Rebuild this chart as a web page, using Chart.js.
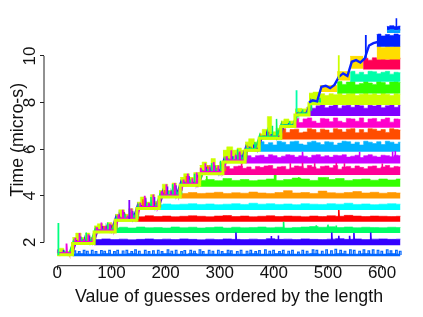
<!DOCTYPE html>
<html>
<head>
<meta charset="utf-8">
<title>Guess timing</title>
<script src="https://cdn.jsdelivr.net/npm/chart.js@4"></script>
<style>
  html, body { margin: 0; padding: 0; background: #fff; overflow: hidden; }
  canvas { display: block; filter: blur(0.45px); }
</style>
</head>
<body>
<canvas id="chart" width="423" height="317"></canvas>
<script>
// --- Data ---
const xTickValues = [0, 100, 200, 300, 400, 500, 600];
const yTickValues = [2, 4, 6, 8, 10];
const xTitle = "Value of guesses ordered by the length";
const yTitle = "Time (micro-s)";

// guess value at which each flat band begins, and its lower edge
const bandStarts = [28, 68, 107, 147, 188, 227, 263, 306, 347, 373, 413, 439, 465, 485, 517, 541, 565, 590, 590, 609, 609];
const bandFloors = [1.41, 1.88, 2.4, 2.89, 3.39, 3.88, 4.39, 4.89, 5.39, 5.89, 6.42, 6.92, 7.42, 7.89, 8.39, 8.89, 9.42, 9.85, 10.39, 11.1, 10.98];

// guess positions for the upper edge of the bands (a band uses the tail of one of these)
const guessGrid = [26, 42, 58, 74, 90, 106, 122, 138, 154, 170, 186, 202, 218, 234, 250, 266, 282, 298, 314, 330, 346, 362, 378, 394, 410, 426, 442, 458, 474, 490, 506, 522, 538, 554, 570, 586, 602, 618, 634];
const fineGrid = [298, 306, 314, 322, 330, 338, 346, 354, 362, 370, 378, 386, 394, 402, 410, 418, 426, 434, 442, 450, 458, 466, 474, 482, 490, 498, 506, 514, 522, 530, 538, 546, 554, 562, 570, 578, 586, 594, 602, 610, 618, 626, 634];

const band1 = [1.5, 1.52, 1.5, 1.5, 1.52, 1.5, 1.5, 1.52, 1.5, 1.5, 1.5, 1.52, 1.5, 1.5, 1.52, 1.5, 1.5, 1.5, 1.52, 1.5, 1.5, 1.52, 1.5, 1.5, 1.52, 1.5, 1.5, 1.5, 1.52, 1.5, 1.5, 1.52, 1.5, 1.5, 1.52, 1.5, 1.5, 1.52, 1.5];
const band2 = [2.14, 2.12, 2.15, 2.12, 2.14, 2.11, 2.13, 2.15, 2.12, 2.14, 2.12, 2.15, 2.13, 2.11, 2.14, 2.12, 2.15, 2.13, 2.12, 2.14, 2.12, 2.16, 2.13, 2.14, 2.12, 2.15, 2.13, 2.12, 2.14, 2.16, 2.13, 2.15, 2.12, 2.14, 2.15, 2.13, 2.14];
const band3 = [2.62, 2.65, 2.62, 2.66, 2.63, 2.64, 2.62, 2.66, 2.63, 2.65, 2.62, 2.64, 2.66, 2.62, 2.65, 2.63, 2.64, 2.66, 2.63, 2.65, 2.62, 2.64, 2.66, 2.68, 2.65, 2.67, 2.64, 2.66, 2.63, 2.65, 2.64, 2.63, 2.65, 2.64];
const band4 = [3.12, 3.1, 3.14, 3.11, 3.13, 3.1, 3.12, 3.14, 3.12, 3.1, 3.13, 3.15, 3.11, 3.13, 3.1, 3.12, 3.14, 3.11, 3.13, 3.12, 3.1, 3.13, 3.11, 3.14, 3.12, 3.16, 3.13, 3.11, 3.13, 3.12, 3.11, 3.12];
const band5 = [3.62, 3.65, 3.62, 3.64, 3.66, 3.63, 3.65, 3.62, 3.64, 3.66, 3.63, 3.68, 3.64, 3.66, 3.63, 3.65, 3.62, 3.66, 3.64, 3.63, 3.66, 3.64, 3.68, 3.63, 3.65, 3.62, 3.64, 3.66, 3.64];
const band6 = [4.14, 4.1, 4.14, 4.1, 4.12, 4.15, 4.1, 4.13, 4.11, 4.16, 4.12, 4.1, 4.14, 4.22, 4.12, 4.14, 4.1, 4.2, 4.13, 4.11, 4.14, 4.18, 4.12, 4.15, 4.11, 4.14, 4.12];
const band7 = [4.72, 4.66, 4.7, 4.65, 4.74, 4.66, 4.7, 4.65, 4.68, 4.72, 4.66, 4.7, 4.76, 4.72, 4.66, 4.78, 4.7, 4.74, 4.66, 4.7, 4.72, 4.67, 4.72, 4.68, 4.72];
const band8 = [5.24, 5.26, 5.16, 5.26, 5.28, 5.18, 5.24, 5.14, 5.26, 5.22, 5.28, 5.3, 5.16, 5.24, 5.26, 5.14, 5.2, 5.28, 5.26, 5.18, 5.3, 5.24, 5.16, 5.26, 5.28, 5.2, 5.3, 5.14, 5.24, 5.26, 5.18, 5.28, 5.22, 5.16, 5.26, 5.28, 5.18, 5.24, 5.3, 5.2, 5.26, 5.24];
const band9 = [5.7, 5.72, 5.64, 5.72, 5.74, 5.66, 5.76, 5.72, 5.64, 5.7, 5.76, 5.74, 5.66, 5.72, 5.7, 5.64, 5.74, 5.76, 5.68, 5.72, 5.66, 5.74, 5.72, 5.76, 5.66, 5.7, 5.74, 5.64, 5.72, 5.76, 5.7, 5.66, 5.74, 5.72, 5.68, 5.74, 5.72];
const band10 = [6.3, 6.32, 6.2, 6.28, 6.18, 6.34, 6.3, 6.2, 6.32, 6.34, 6.22, 6.18, 6.3, 6.34, 6.28, 6.2, 6.32, 6.3, 6.18, 6.26, 6.34, 6.32, 6.22, 6.3, 6.18, 6.34, 6.3, 6.24, 6.32, 6.2, 6.34, 6.3, 6.22, 6.3];
const band11 = [6.85, 6.88, 6.72, 6.84, 6.86, 6.7, 6.74, 6.88, 6.84, 6.72, 6.86, 6.82, 6.7, 6.88, 6.84, 6.74, 6.86, 6.88, 6.7, 6.84, 6.72, 6.88, 6.86, 6.78, 6.84, 6.72, 6.88, 6.84, 6.82];
const band12 = [7.3, 7.32, 7.14, 7.3, 7.34, 7.2, 7.12, 7.32, 7.3, 7.18, 7.34, 7.2, 7.14, 7.32, 7.3, 7.2, 7.34, 7.14, 7.3, 7.32, 7.18, 7.28, 7.34, 7.16, 7.3, 7.28];
const band13 = [7.85, 7.88, 7.76, 7.86, 7.9, 7.78, 7.85, 7.92, 7.76, 7.86, 7.88, 7.8, 7.92, 7.86, 7.76, 7.88, 7.85, 7.9, 7.78, 7.86, 7.92, 7.8, 7.88];
const band14 = [8.36, 8.38, 8.3, 8.38, 8.34, 8.4, 8.32, 8.38, 8.4, 8.3, 8.36, 8.4, 8.34, 8.38, 8.32, 8.4, 8.36, 8.3, 8.38, 8.36];
const band15 = [8.88, 8.9, 8.78, 8.88, 8.9, 8.76, 8.82, 8.9, 8.84, 8.78, 8.9, 8.86, 8.76, 8.88, 8.9, 8.86];
const band16 = [9.32, 9.34, 9.22, 9.3, 9.2, 9.34, 9.32, 9.24, 9.3, 9.34, 9.22, 9.3, 9.28];
const band17 = [9.85, 9.9, 9.82, 9.92, 9.86, 9.95, 9.84, 9.92, 9.88, 9.9];
const band18 = [10.4, 10.42, 10.36, 10.42, 10.38, 10.42, 10.4];
const band19 = [10.92, 10.94, 10.86, 10.92, 10.88, 10.94, 10.9];
const band20 = [11.28, 11.26, 11.3, 11.26, 11.28];
const band21 = [11.12, 11.1, 11.13, 11.1, 11.12];
const coarseBands = [band1, band2, band3, band4, band5, band6, band7];
const fineBands = [band8, band9, band10, band11, band12, band13, band14, band15, band16, band17, band18, band19, band20, band21];

// teeth of the lowest band
const combX = [31, 39, 48, 54, 63, 70, 80, 86, 95, 104, 110, 120, 127, 136, 143, 150, 161, 168, 176, 185, 192, 203, 210, 218, 228, 234, 245, 252, 262, 268, 279, 286, 296, 303, 314, 320, 331, 338, 349, 356, 365, 372, 383, 391, 398, 409, 416, 426, 433, 444, 452, 460, 471, 478, 488, 496, 505, 513, 522, 530, 540, 547, 557, 565, 574, 582, 591, 598, 608, 615, 625, 632];
const combY = [1.64, 1.6, 1.66, 1.62, 1.66, 1.6, 1.65, 1.62, 1.66, 1.6, 1.66, 1.63, 1.66, 1.6, 1.68, 1.62, 1.66, 1.6, 1.64, 1.66, 1.6, 1.68, 1.62, 1.66, 1.6, 1.65, 1.66, 1.62, 1.68, 1.6, 1.66, 1.62, 1.66, 1.6, 1.66, 1.64, 1.6, 1.66, 1.62, 1.66, 1.6, 1.65, 1.68, 1.62, 1.66, 1.6, 1.66, 1.62, 1.66, 1.58, 1.66, 1.62, 1.68, 1.66, 1.62, 1.68, 1.64, 1.7, 1.66, 1.62, 1.68, 1.66, 1.62, 1.68, 1.64, 1.68, 1.66, 1.62, 1.68, 1.64, 1.66, 1.62];

// tall single spikes: guess, peak time, and which band they rise from
const spikeBands = [1, 2, 3, 6, 7, 8, 19];
const spikeXs = [
  [330, 395, 408, 507, 520, 540, 548, 579],
  [418, 478, 500, 515],
  [520],
  [276, 401, 403, 446, 500],
  [340, 430, 453, 475, 515, 530, 600],
  [453, 558, 619, 624],
  [626]
];
const spikeYs = [
  [2.42, 2.27, 2.3, 2.42, 2.28, 2.28, 2.4, 2.42],
  [2.88, 2.74, 2.76, 2.72],
  [3.39],
  [4.85, 4.89, 4.89, 4.8, 4.8],
  [5.38, 5.4, 5.42, 5.4, 5.42, 5.4, 5.38],
  [5.89, 5.89, 5.9, 5.92],
  [11.62]
];

// the staircase: start of each step, its lower edge, top of the yellow-green block
const stairEdges = [0, 28, 68, 107, 147, 188, 227, 263, 306, 347, 373, 413, 439, 465, 485];
const stairFloor = [1.42, 1.9, 2.4, 2.9, 3.4, 3.9, 4.4, 4.9, 5.4, 5.9, 6.42, 6.92, 7.42, 7.9, 7.9];
const stairTop = [1.6, 2.2, 2.7, 3.2, 3.72, 4.22, 4.78, 5.3, 5.95, 6.3, 6.65, 7.2, 7.72, 8.4, 8.4];

// gold block over the last steps
const goldEdges = [485, 517, 541, 565];
const goldFloor = [8.45, 8.95, 9.45, 9.45];
const goldTop = [8.72, 9.32, 9.98, 9.98];

// noisy traces climbing the staircase
const mixX = [0, 8, 16, 24, 32, 40, 48, 56, 64, 72, 80, 88, 96, 104, 112, 120, 128, 136, 144, 152, 160, 168, 176, 184, 192, 200, 208, 216, 224, 232, 240, 248, 256, 264, 272, 280, 288, 296, 304, 312, 320, 328, 336, 344, 352, 360, 368, 376, 384, 392, 400, 408, 416, 424, 432, 440, 448, 456, 464, 472, 480];
const mixYellow = [1.6, 1.75, 1.6, 1.55, 2.2, 2.4, 2.15, 2.4, 2.2, 2.6, 2.8, 2.65, 2.85, 2.6, 3.15, 3.4, 3.2, 3.45, 3.2, 3.65, 3.95, 3.7, 4.05, 3.75, 4.2, 4.5, 4.2, 4.55, 4.25, 4.7, 4.95, 4.75, 5.0, 5.2, 5.45, 5.25, 5.6, 5.3, 5.45, 5.7, 6.1, 5.85, 6.05, 5.8, 6.2, 6.45, 6.25, 6.6, 6.85, 7.4, 6.75, 6.9, 7.1, 7.3, 7.2, 7.6, 7.75, 7.7, 7.8, 8.3, 8.45];
const mixGreen = [1.55, 1.65, 1.5, 1.75, 2.0, 2.2, 2.42, 2.15, 2.05, 2.5, 2.6, 2.85, 2.55, 2.5, 3.0, 3.2, 3.42, 3.1, 3.0, 3.5, 3.7, 3.95, 3.6, 3.55, 4.0, 4.2, 4.5, 4.1, 4.05, 4.55, 4.7, 4.95, 4.6, 5.05, 5.15, 5.4, 5.1, 5.5, 5.15, 5.55, 5.7, 6.0, 5.6, 5.55, 6.05, 6.3, 6.1, 6.55, 6.65, 7.0, 7.3, 6.6, 7.05, 7.2, 7.1, 7.5, 7.7, 7.55, 7.65, 8.05, 8.2];
const mixMagenta = [1.7, 1.6, 1.95, 1.55, 2.2, 2.4, 2.15, 2.35, 2.2, 2.65, 2.85, 2.7, 2.8, 2.6, 3.2, 3.4, 3.15, 3.45, 3.2, 3.7, 4.0, 3.7, 4.05, 3.8, 4.2, 4.5, 4.2, 4.55, 4.3, 4.7, 4.95, 4.75, 5.0, 5.2, 5.4, 5.25, 5.45, 5.3, 5.4, 5.7, 5.95, 5.75, 5.9, 5.7];
const mixBlue = [1.55, 1.68, 1.55, 1.62, 2.1, 2.25, 2.1, 2.3, 2.1, 2.55, 2.7, 2.6, 2.75, 2.55, 3.1, 3.3, 3.1, 3.35, 3.1, 3.6, 3.9, 3.65, 3.95, 3.6, 4.1, 4.4, 4.1, 4.45, 4.15, 4.55, 4.85, 4.6, 4.9, 5.05, 5.25, 5.1, 5.3, 5.15, 5.2, 5.55, 5.7, 5.6, 5.75, 5.55, 6.05, 6.2, 6.1, 6.55, 6.62, 6.65, 6.58, 6.55, 7.05, 7.12, 7.05, 7.58, 7.62, 7.55, 7.65];
const mixOrange = [1.5, 1.55, 1.5, 1.6, 2.05, 2.15, 2.3, 2.05, 2.15, 2.48, 2.7, 2.5, 2.62, 2.55, 3.05, 3.1, 3.3, 3.02, 3.15, 3.85, 3.55, 3.5, 3.7, 3.5, 4.25, 4.05, 4.4, 4.0, 4.2, 4.85, 4.5, 4.6, 4.8, 5.1, 5.3, 5.05, 5.2, 5.35, 5.05, 5.6, 5.5, 5.85, 5.55, 5.65, 6.1, 6.0, 6.25, 6.6, 6.75, 6.55, 6.8, 6.6];
// the blue trace alone stays readable over the last steps
const topTraceX = [465, 472, 480, 488, 496, 504, 512, 520, 528, 536, 544, 552, 560, 568, 576, 584, 592];
const topTraceY = [8.0, 8.1, 8.05, 8.68, 8.72, 8.62, 8.76, 9.1, 9.25, 9.14, 9.75, 9.82, 9.72, 9.9, 10.45, 10.55, 10.6];

// narrow spikes inside the staircase
const tallSpikeX = [2, 133, 442, 520, 570];
const tallSpikeY = [2.83, 3.82, 8.53, 10.03, 10.9];
const tallSpikeBase = [1.45, 3.0, 7.6, 9.0, 9.9];

// --- Colours ---
const bandColors = ["#0066ff", "#3300ff", "#00ff66", "#ff0000", "#00ffff", "#ff9900", "#33ff00", "#ff0099", "#cc00ff", "#00b3ff", "#ff4d00", "#ff00cc", "#8000ff", "#ccff00", "#33ff00", "#00ffaa", "#ff0055", "#ffdd00", "#0022ff", "#0022ff", "#00a0ff"];
const tallSpikeColors = ["#00ff80", "#8000ff", "#00ffaa", "#ccff00", "#0022ff"];

function lineSet(points, color, width, extra) {
  return Object.assign({
    type: "line",
    data: points,
    borderColor: color,
    backgroundColor: color,
    borderWidth: width,
    pointRadius: 0,
    fill: false,
    tension: 0
  }, extra);
}

function stepFloorAt(x) {
  let s = 0;
  stairEdges.forEach((edge, i) => { if (x >= edge) s = i; });
  return stairFloor[s];
}

// --- Build datasets in paint order ---
const datasets = [];

function addBand(tops, grid, i) {
  const offset = grid.length - tops.length;
  const points = tops.map((y, k) => ({ x: k === 0 ? bandStarts[i] : grid[offset + k], y }));
  datasets.push(lineSet(points, bandColors[i], 0.6, { stepped: "middle", fill: { value: bandFloors[i] } }));
}
coarseBands.forEach((tops, i) => addBand(tops, guessGrid, i));
fineBands.forEach((tops, i) => addBand(tops, fineGrid, i + coarseBands.length));

const combPoints = [];
combX.forEach((x, i) => {
  combPoints.push({ x, y: bandFloors[0] + 0.05 }, { x, y: combY[i] }, { x: x + 3, y: combY[i] }, { x: x + 3, y: bandFloors[0] + 0.05 });
});
datasets.push(lineSet(combPoints, bandColors[0], 1.2, {}));

spikeBands.forEach((b, i) => {
  const points = [];
  spikeXs[i].forEach((x, k) => {
    points.push({ x, y: bandFloors[b] + 0.1 }, { x, y: spikeYs[i][k] }, { x: x + 1, y: bandFloors[b] + 0.1 });
  });
  datasets.push(lineSet(points, bandColors[b], 1.6, {}));
});

stairEdges.forEach((x, i) => {
  if (i + 1 === stairEdges.length) return;
  datasets.push(lineSet([{ x, y: stairTop[i] }, { x: stairEdges[i + 1], y: stairTop[i] }], "#ccff00", 1, { fill: { value: stairFloor[i] } }));
});

goldEdges.forEach((x, i) => {
  if (i + 1 === goldEdges.length) return;
  datasets.push(lineSet([{ x, y: goldTop[i] }, { x: goldEdges[i + 1], y: goldTop[i] }], "#ffdd00", 1, { fill: { value: goldFloor[i] } }));
});

// yellow trace: a skyline cut at the steps, filled down to each step's lower edge
stairEdges.forEach((edge, s) => {
  if (s + 1 === stairEdges.length) return;
  const end = stairEdges[s + 1];
  const points = [];
  mixYellow.forEach((y, i) => {
    if (mixX[i] >= edge && mixX[i] < end) points.push({ x: mixX[i], y });
  });
  if (!points.length) return;
  points[0].x = edge;
  points.push({ x: end, y: points[points.length - 1].y });
  datasets.push(lineSet(points, "#ccff00", 0.5, { stepped: "middle", fill: { value: stairFloor[s] } }));
});

// other traces: narrow pillars rising from the step
const pillars = [[mixBlue, "#3a10ff", 3, 1.6], [mixOrange, "#ff6a00", 6, 1.5], [mixGreen, "#00f070", 5, 1.5], [mixMagenta, "#f000e0", 1, 1.8]];
pillars.forEach(([ys, color, shift, width]) => {
  const points = [];
  ys.forEach((y, i) => {
    const x = mixX[i] + shift;
    const low = stepFloorAt(x) + 0.12;
    points.push({ x, y: low }, { x, y }, { x: x + 1, y: low });
  });
  datasets.push(lineSet(points, color, width, {}));
});

// yellow-green outline of the steps, over the traces
datasets.push(lineSet(stairEdges.map((x, i) => ({ x, y: stairFloor[i] + 0.05 })), "#ccff00", 3, { stepped: true }));
datasets.push(lineSet(topTraceX.map((x, i) => ({ x, y: topTraceY[i] })), "#0a22ff", 2.4, {}));

tallSpikeX.forEach((x, i) => {
  datasets.push(lineSet([{ x, y: tallSpikeBase[i] }, { x, y: tallSpikeY[i] }], tallSpikeColors[i], 1.8, {}));
});

// Chart.js paints the first dataset last
datasets.reverse();

// --- R style axis lines, only spanning the ticks ---
const axisLines = {
  id: "axisLines",
  afterDraw(chart) {
    const { ctx, scales } = chart;
    const ax = scales.x, ay = scales.y;
    ctx.save();
    ctx.strokeStyle = "#222";
    ctx.lineWidth = 1;
    ctx.beginPath();
    ctx.moveTo(ax.getPixelForValue(xTickValues[0]), ax.top);
    ctx.lineTo(ax.getPixelForValue(xTickValues[xTickValues.length - 1]), ax.top);
    ctx.moveTo(ay.right, ay.getPixelForValue(yTickValues[0]));
    ctx.lineTo(ay.right, ay.getPixelForValue(yTickValues[yTickValues.length - 1]));
    ctx.stroke();
    ctx.restore();
  }
};

const fontFamily = '"Liberation Sans", Arial, sans-serif';

new Chart(document.getElementById("chart"), {
  data: { datasets },
  plugins: [axisLines],
  options: {
    responsive: false,
    animation: false,
    layout: { padding: { top: 14, right: 9, left: 0, bottom: 0 } },
    plugins: { legend: { display: false }, tooltip: { enabled: false } },
    scales: {
      x: {
        type: "linear",
        min: -24.6,
        max: 659,
        afterBuildTicks: s => { s.ticks = xTickValues.map(value => ({ value })); },
        afterFit: s => { s.height = 51.3; },
        grid: { drawOnChartArea: false, tickLength: 4, color: "#222", tickColor: "#222" },
        border: { display: false },
        ticks: { color: "#111", font: { family: fontFamily, size: 17 }, padding: -7, maxRotation: 0, autoSkip: false },
        title: { display: true, text: xTitle, color: "#111", font: { family: fontFamily, size: 17.8 }, padding: { top: 0, bottom: 9 } }
      },
      y: {
        type: "linear",
        min: 1.0,
        max: 11.8,
        afterBuildTicks: s => { s.ticks = yTickValues.map(value => ({ value })); },
        afterFit: s => { s.width = 44; },
        grid: { drawOnChartArea: false, tickLength: 4, color: "#222", tickColor: "#222" },
        border: { display: false },
        ticks: { color: "#111", font: { family: fontFamily, size: 17 }, padding: 0, minRotation: 90, maxRotation: 90, crossAlign: "center", autoSkip: false },
        title: { display: true, text: yTitle, color: "#111", font: { family: fontFamily, size: 17.8 }, padding: { top: 7, bottom: 0 } }
      }
    }
  }
});
</script>
</body>
</html>
